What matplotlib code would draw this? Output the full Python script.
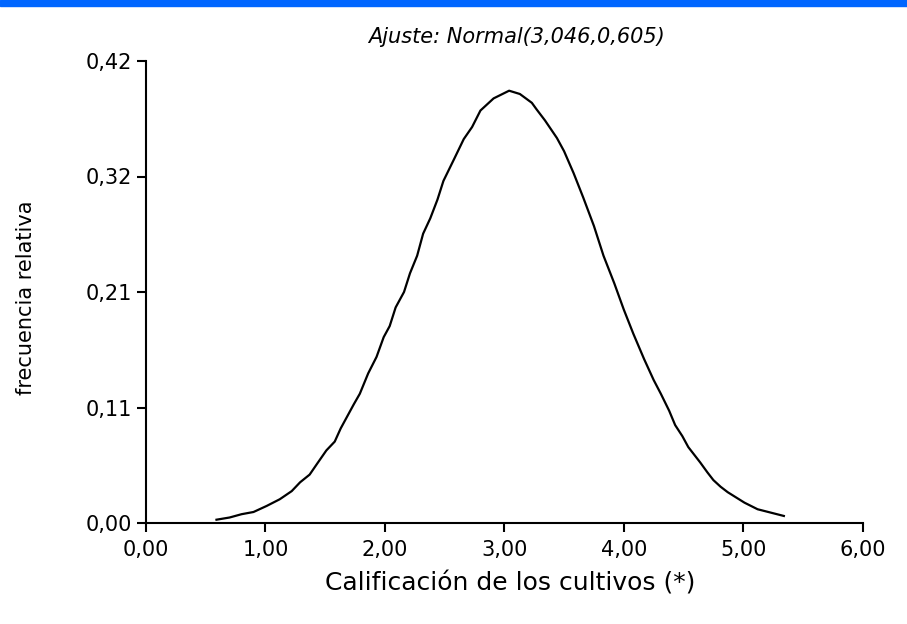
import matplotlib
matplotlib.use("Agg")
import matplotlib.pyplot as plt
from matplotlib.patches import Rectangle
from matplotlib.ticker import FixedLocator, FuncFormatter

# curve (calificación, frecuencia relativa)
calificacion = [0.59, 0.70, 0.80, 0.90, 1.01, 1.12, 1.22, 1.29, 1.37, 1.43,
                1.51, 1.58, 1.63, 1.68, 1.74, 1.79, 1.86, 1.93, 1.99, 2.04,
                2.09, 2.16, 2.21, 2.27, 2.32, 2.38, 2.44, 2.49, 2.58, 2.66,
                2.73, 2.80, 2.91, 3.04, 3.13, 3.23, 3.27, 3.34, 3.44, 3.50,
                3.58, 3.66, 3.75, 3.83, 3.92, 4.00, 4.08, 4.17, 4.25, 4.31,
                4.38, 4.43, 4.49, 4.54, 4.64, 4.70, 4.75, 4.81, 4.87, 5.01,
                5.12, 5.34]
frecuencia = [0.003, 0.005, 0.008, 0.010, 0.0155, 0.0216, 0.029, 0.037, 0.044, 0.0535,
              0.066, 0.074, 0.086, 0.096, 0.108, 0.1175, 0.136, 0.151, 0.169, 0.179,
              0.196, 0.210, 0.227, 0.243, 0.263, 0.277, 0.294, 0.311, 0.331, 0.349,
              0.360, 0.375, 0.386, 0.393, 0.390, 0.382, 0.376, 0.366, 0.350, 0.338,
              0.318, 0.296, 0.270, 0.243, 0.218, 0.194, 0.172, 0.149, 0.130, 0.1175,
              0.102, 0.089, 0.079, 0.069, 0.055, 0.046, 0.039, 0.033, 0.028, 0.0185,
              0.0125, 0.0064]

x_ticks = [0, 1, 2, 3, 4, 5, 6]
y_ticks = [0, 0.105, 0.21, 0.315, 0.42]

titulo = "Ajuste: Normal(3,046,0,605)"
x_label = "Calificación de los cultivos (*)"
y_label = "frecuencia relativa"

plt.rcParams['font.family'] = ['DejaVu Sans']

fig = plt.figure(figsize=(9.07, 6.24), dpi=100)
fig.patches.append(Rectangle((0, 1 - 6 / 624), 1, 6 / 624, transform=fig.transFigure,
                             color='#0066ff', zorder=5))

ax = fig.add_axes([146 / 907, 101 / 624, 716.7 / 907, 462 / 624])
ax.plot(calificacion, frecuencia, color='black', lw=1.6)

ax.set_xlim(0, 6)
ax.set_ylim(0, 0.42)
ax.spines['top'].set_visible(False)
ax.spines['right'].set_visible(False)
for s in ['left', 'bottom']:
    ax.spines[s].set_linewidth(1.5)

# round half up, so 0.105 -> 0,11
comma = FuncFormatter(lambda v, p: f"{v + 1e-9:.2f}".replace('.', ','))
ax.xaxis.set_major_locator(FixedLocator(x_ticks))
ax.yaxis.set_major_locator(FixedLocator(y_ticks))
ax.xaxis.set_major_formatter(comma)
ax.yaxis.set_major_formatter(comma)
ax.tick_params(axis='both', direction='out', length=6.5, width=1.5, labelsize=15)
ax.tick_params(axis='x', pad=6)
ax.tick_params(axis='y', pad=3.5)

ax.set_xlabel(x_label, fontsize=18)
ax.xaxis.set_label_coords(0.508, -0.105)
ax.set_ylabel(y_label, fontsize=15)
ax.yaxis.set_label_coords(-0.153, 0.487)

fig.text(516 / 907, 1 - 37 / 624, titulo, fontsize=15, style='italic',
         ha='center', va='center')

fig.savefig('out.png', dpi=100)
